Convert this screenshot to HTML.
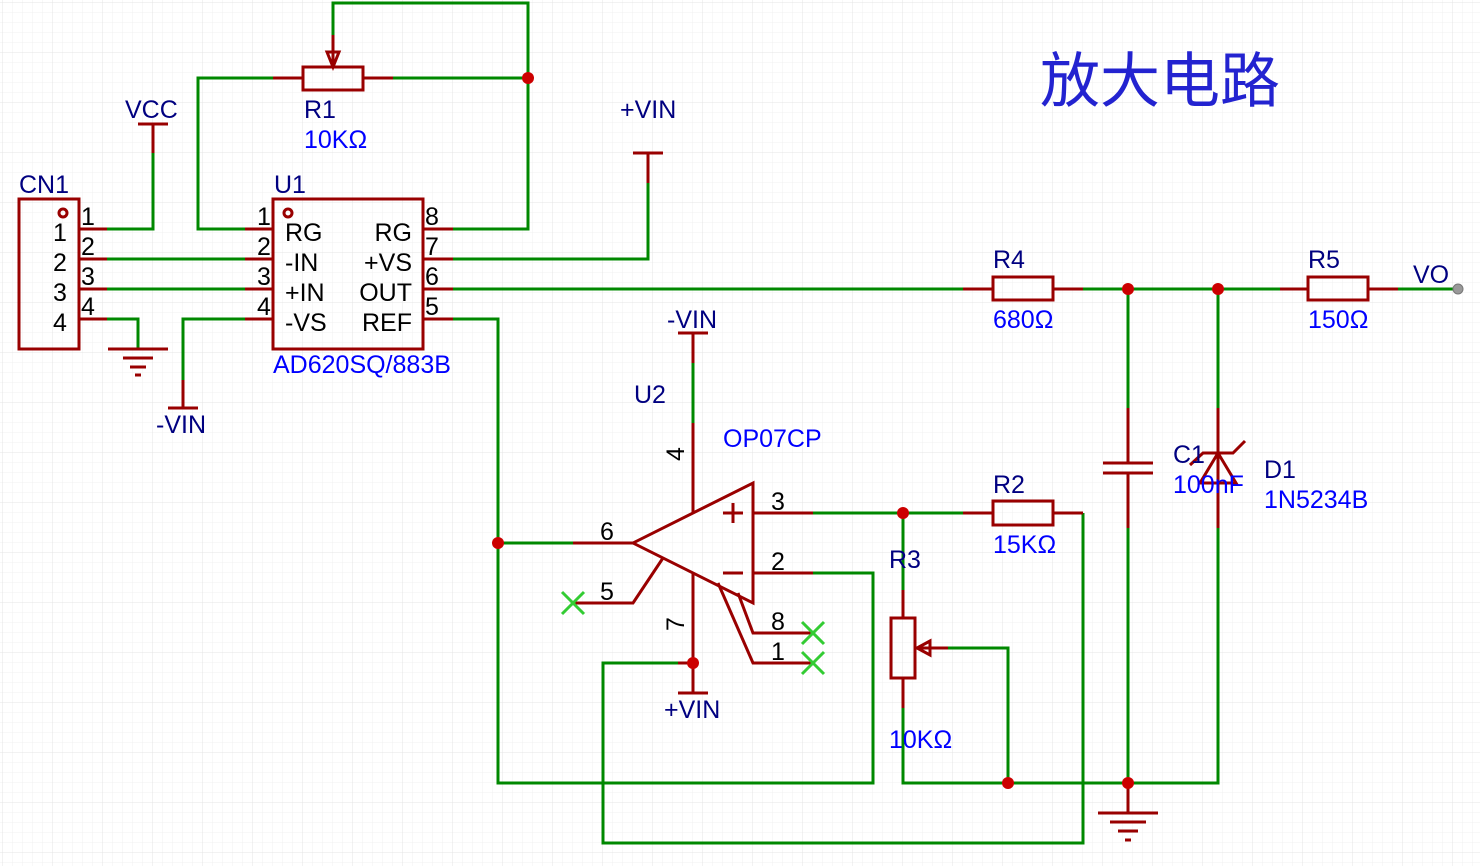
<!DOCTYPE html>
<html><head><meta charset="utf-8"><style>
html,body{margin:0;padding:0;background:#fff}
svg{display:block}
text{font-family:"Liberation Sans","Noto Sans CJK SC",sans-serif;font-size:25px}
.n{fill:#000080}.v{fill:#0000ff}.k{fill:#000}
.g{stroke:#008800;stroke-width:3;fill:none}
.r{stroke:#990000;stroke-width:3;fill:none}
.x{stroke:#33cc33;stroke-width:3}
</style></head><body>
<svg width="1480" height="866" viewBox="0 0 1480 866" xmlns="http://www.w3.org/2000/svg">
<defs>
<pattern id="p1" width="10" height="10" patternUnits="userSpaceOnUse" x="3" y="3"><path d="M10 0V10M0 10H10" stroke="#f0f0f0" stroke-width="1" fill="none"/></pattern>
<pattern id="p2" width="50" height="50" patternUnits="userSpaceOnUse" x="3" y="3"><path d="M50 0V50M0 50H50" stroke="#e4e4e4" stroke-width="1" fill="none"/></pattern>
</defs>
<rect width="1480" height="866" fill="url(#p1)"/>
<rect width="1480" height="866" fill="url(#p2)"/>

<g class="g">
<path d="M107 229H153V153"/>
<path d="M107 259H245M107 289H245"/>
<path d="M107 319H138V349"/>
<path d="M245 319H183V380"/>
<path d="M245 229H198V78H273M393 78H528V3H333V35"/>
<path d="M453 229H528V78"/>
<path d="M453 259H648V183"/>
<path d="M453 289H963M1083 289H1280M1398 289H1455"/>
<path d="M453 319H498V783H873V573H813"/>
<path d="M498 543H573"/>
<path d="M813 513H963M1083 513V843H603V663H678"/>
<path d="M903 513V590M903 708V783H1218V528M1128 289V408M1128 528V783M1218 289V408"/>
<path d="M948 648H1008V783"/>
<path d="M693 363V423"/>
</g>
<g class="r">
<rect x="19" y="199" width="60" height="150"/>
<circle cx="63" cy="213" r="4"/>
<path d="M79 229H107M79 259H107M79 289H107M79 319H107"/>
<path d="M138 124H168M153 124V153"/>
<path d="M108 349H168M123 358H153M130 367H146M135 375H141"/>
<path d="M183 380V408M168 408H198"/>
<rect x="273" y="199" width="150" height="150"/>
<circle cx="288" cy="213" r="4"/>
<path d="M245 229H273M245 259H273M245 289H273M245 319H273"/>
<path d="M423 229H453M423 259H453M423 289H453M423 319H453"/>
<rect x="303" y="67" width="60" height="23"/>
<path d="M273 78H303M363 78H393M333 35V67M327 52L333 67L339 52Z"/>
<path d="M633 153H663M648 153V183"/>
<path d="M963 289H993M1053 289H1083M1280 289H1308M1368 289H1398"/>
<rect x="993" y="277" width="60" height="23"/>
<rect x="1308" y="277" width="60" height="23"/>
<path d="M753 483V603L633 543Z"/>
<path d="M573 543H633M753 513H813M753 573H813"/>
<path d="M678 333H708M693 333V363M693 423V513"/>
<path d="M693 573V693M678 693H708"/>
<path d="M663 558L633 603H573"/>
<path d="M738 593L753 633H813M718 583L753 663H813"/>
<path d="M678 663H693"/>
<path d="M723 513H743M733 503V523M723 573H743"/>
<path d="M963 513H993M1053 513H1083"/>
<rect x="993" y="501" width="60" height="24"/>
<path d="M903 590V618M903 678V708"/>
<rect x="891" y="618" width="24" height="60"/>
<path d="M915 648H948M930 641L917 648L930 655Z"/>
<path d="M1128 408V463M1103 463H1153M1103 473H1153M1128 473V528"/>
<path d="M1218 408V528M1190 465L1203 453H1233L1245 441M1218 453L1200 483H1236Z"/>
<path d="M1128 783V813M1098 813H1158M1110 822H1146M1118 831H1138M1125 840H1131"/>
</g>
<g fill="#cc0000">
<circle cx="528" cy="78" r="6"/><circle cx="1128" cy="289" r="6"/><circle cx="1218" cy="289" r="6"/>
<circle cx="498" cy="543" r="6"/><circle cx="903" cy="513" r="6"/><circle cx="693" cy="663" r="6"/>
<circle cx="1008" cy="783" r="6"/><circle cx="1128" cy="783" r="6"/>
</g>
<circle cx="1458" cy="289" r="5" fill="#999" stroke="#777" stroke-width="1"/>
<g class="x">
<path d="M562 592L584 614M584 592L562 614"/>
<path d="M802 622L824 644M824 622L802 644"/>
<path d="M802 652L824 674M824 652L802 674"/>
</g>

<g class="n">
<text x="19" y="193">CN1</text>
<text x="125" y="118">VCC</text>
<text x="274" y="193">U1</text>
<text x="304" y="118">R1</text>
<text x="620" y="118">+VIN</text>
<text x="156" y="433">-VIN</text>
<text x="993" y="268">R4</text>
<text x="1308" y="268">R5</text>
<text x="1413" y="283">VO</text>
<text x="667" y="328">-VIN</text>
<text x="634" y="403">U2</text>
<text x="993" y="493">R2</text>
<text x="889" y="568">R3</text>
<text x="1173" y="463">C1</text>
<text x="1264" y="478">D1</text>
<text x="664" y="718">+VIN</text>
</g>
<g class="v">
<text x="304" y="148">10KΩ</text>
<text x="273" y="373">AD620SQ/883B</text>
<text x="993" y="328">680Ω</text>
<text x="1308" y="328">150Ω</text>
<text x="723" y="447">OP07CP</text>
<text x="993" y="553">15KΩ</text>
<text x="889" y="748">10KΩ</text>
<text x="1173" y="493">100nF</text>
<text x="1264" y="508">1N5234B</text>
<text x="1040" y="102" style="font-size:60px;fill:#2323d0">放大电路</text>
</g>
<g class="k">
<text x="53" y="241">1</text><text x="53" y="271">2</text><text x="53" y="301">3</text><text x="53" y="331">4</text>
<text x="81" y="225">1</text><text x="81" y="255">2</text><text x="81" y="285">3</text><text x="81" y="315">4</text>
<text x="257" y="225">1</text><text x="257" y="255">2</text><text x="257" y="285">3</text><text x="257" y="315">4</text>
<text x="425" y="225">8</text><text x="425" y="255">7</text><text x="425" y="285">6</text><text x="425" y="315">5</text>
<text x="285" y="241">RG</text><text x="285" y="271">-IN</text><text x="285" y="301">+IN</text><text x="285" y="331">-VS</text>
<text x="412" y="241" text-anchor="end">RG</text><text x="412" y="271" text-anchor="end">+VS</text><text x="412" y="301" text-anchor="end">OUT</text><text x="412" y="331" text-anchor="end">REF</text>
<text x="600" y="540">6</text><text x="600" y="600">5</text>
<text x="771" y="510">3</text><text x="771" y="570">2</text><text x="771" y="630">8</text><text x="771" y="660">1</text>
<text transform="translate(668,453) rotate(-90)" x="-8" y="16">4</text>
<text transform="translate(668,623) rotate(-90)" x="-8" y="16">7</text>
</g>
</svg>
</body></html>
